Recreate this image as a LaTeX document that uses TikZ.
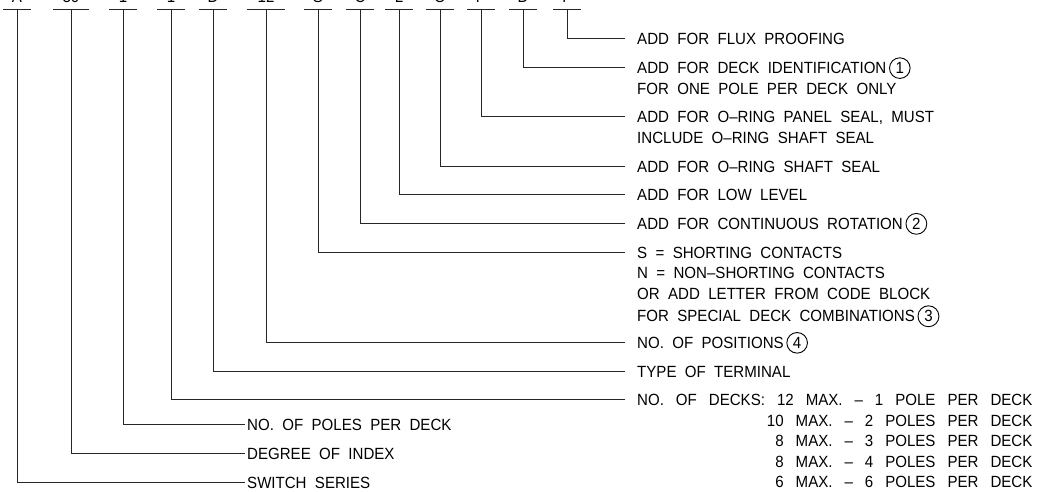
\documentclass[tikz,border=0pt]{standalone}
\usepackage{fontspec}
\setmainfont{Liberation Sans}[FakeStretch=0.93, WordSpace=2]
\usetikzlibrary{positioning}
\tikzset{
    codechar/.style={inner sep=0pt, minimum width=#1, text depth=6pt, anchor=base, font=\fontsize{16.2}{20.5}\selectfont},
    codebar/.style={line width=1pt, black!85},
    leader/.style={line width=1pt, black!85},
    notetext/.style={inner sep=0pt, anchor=base west, align=left, font=\fontsize{16.2}{20.5}\selectfont},
    cnumnode/.style={draw, circle, inner sep=2.4pt, line width=0.9pt}
}
\newcommand{\circnum}[1]{\tikz[baseline=(cn.base)] \node[cnumnode] (cn) {#1};}
\newcommand{\notelines}[1]{\begin{tabular}[t]{@{}l@{}}#1\end{tabular}}

\begin{document}
\begin{tikzpicture}[x=1pt, y=-1pt]
\useasboundingbox (0,0) rectangle (1042,492);
\clip (0,0) rectangle (1042,492);

% ordering code, cut by the top edge
\node[codechar=27] (cseries) at (17,3) {A};
\node[codechar=36] (cindex) at (71,3) {30};
\node[codechar=27] (cpoles) at (123,3) {1};
\node[codechar=27] (cdecks) at (171,3) {1};
\node[codechar=27] (cterm) at (213,3) {D};
\node[codechar=37] (cpos) at (266,3) {12};
\node[codechar=27] (ccont) at (318,3) {S};
\node[codechar=27] (crot) at (360,3) {C};
\node[codechar=27] (clow) at (399,3) {L};
\node[codechar=27] (cshaft) at (440,3) {O};
\node[codechar=27] (cpanel) at (481,3) {P};
\node[codechar=27] (cdeckid) at (523,3) {D};
\node[codechar=27] (cflux) at (567,3) {F};

\foreach \c in {cseries,cindex,cpoles,cdecks,cterm,cpos,ccont,crot,clow,cshaft,cpanel,cdeckid,cflux}
    \draw[codebar] (\c.south west) -- (\c.south east);

% notes on the right
\node[notetext] (lflux) at (637,45) {ADD FOR FLUX PROOFING};
\node[notetext] (ldeckid) at (637,73.7) {\notelines{ADD FOR DECK IDENTIFICATION\,\circnum{1}\\FOR ONE POLE PER DECK ONLY}};
\node[notetext] (lpanel) at (637,122.9) {\notelines{ADD FOR O--RING PANEL SEAL, MUST\\INCLUDE O--RING SHAFT SEAL}};
\node[notetext] (lshaft) at (637,172.1) {ADD FOR O--RING SHAFT SEAL};
\node[notetext] (llow) at (637,200.8) {ADD FOR LOW LEVEL};
\node[notetext] (lrot) at (637,229.5) {ADD FOR CONTINUOUS ROTATION\,\circnum{2}};
\node[notetext] (lcont) at (637,258.2) {\notelines{S = SHORTING CONTACTS\\N = NON--SHORTING CONTACTS\\OR ADD LETTER FROM CODE BLOCK\\FOR SPECIAL DECK COMBINATIONS\,\circnum{3}}};
\node[notetext] (lpos) at (637,348.4) {NO. OF POSITIONS\,\circnum{4}};
\node[notetext] (lterm) at (637,377.1) {TYPE OF TERMINAL};
\node[notetext] (ldecks) at (637,405.8) {\spaceskip=12pt\frenchspacing
  \begin{tabular}[t]{@{}r@{}}
    NO. OF DECKS: 12 MAX. -- 1 POLE PER DECK\\
    10 MAX. -- 2 POLES PER DECK\\
    8 MAX. -- 3 POLES PER DECK\\
    8 MAX. -- 4 POLES PER DECK\\
    6 MAX. -- 6 POLES PER DECK
  \end{tabular}};

% notes on the left
\node[notetext] (lpoles) at (247,430.6) {NO. OF POLES PER DECK};
\node[notetext] (lindex) at (247,459.3) {DEGREE OF INDEX};
\node[notetext] (lseries) at (247,488) {SWITCH SERIES};

\draw[leader] (cflux.south) |- ([shift={(-12,-6)}]lflux.base west);
\draw[leader] (cdeckid.south) |- ([shift={(-12,-6)}]ldeckid.base west);
\draw[leader] (cpanel.south) |- ([shift={(-12,-6)}]lpanel.base west);
\draw[leader] (cshaft.south) |- ([shift={(-12,-6)}]lshaft.base west);
\draw[leader] (clow.south) |- ([shift={(-12,-6)}]llow.base west);
\draw[leader] (crot.south) |- ([shift={(-12,-6)}]lrot.base west);
\draw[leader] (ccont.south) |- ([shift={(-12,-6)}]lcont.base west);
\draw[leader] (cpos.south) |- ([shift={(-12,-6)}]lpos.base west);
\draw[leader] (cterm.south) |- ([shift={(-12,-6)}]lterm.base west);
\draw[leader] (cdecks.south) |- ([shift={(-12,-6)}]ldecks.base west);
\draw[leader] (cpoles.south) |- ([shift={(-2,-6)}]lpoles.base west);
\draw[leader] (cindex.south) |- ([shift={(-2,-6)}]lindex.base west);
\draw[leader] (cseries.south) |- ([shift={(-2,-6)}]lseries.base west);

\end{tikzpicture}
\end{document}
